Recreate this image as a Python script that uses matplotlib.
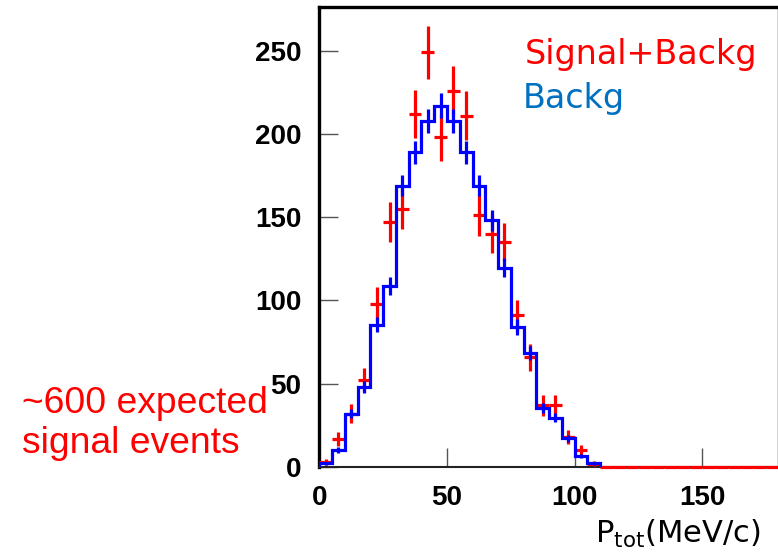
import numpy as np
import matplotlib
matplotlib.use("Agg")
import matplotlib.pyplot as plt

# ---- data ----
bin_width = 5.0
# Signal+Background (red points), bins of 5 MeV/c starting at 0, up to 180
sig_bkg = [3, 17, 32, 52, 98, 147, 155, 212, 249, 198, 226, 211, 151, 140, 135,
           91, 66, 37, 37, 18, 10, 2,
           0, 0, 0, 0, 0, 0, 0, 0, 0, 0, 0, 0, 0, 0]
sig_bkg_err = [1.7, 4.1, 5.7, 7.2, 9.9, 12.1, 12.4, 14.6, 15.8, 14.1, 15.0, 14.5, 12.3, 11.8, 11.6,
               9.5, 8.1, 6.1, 6.1, 4.2, 3.2, 1.4,
               0, 0, 0, 0, 0, 0, 0, 0, 0, 0, 0, 0, 0, 0]
# Background only (blue histogram), bins of 5 MeV/c starting at 0, up to 110
bkg = [2.2, 10.2, 32, 48, 85.5, 108.6, 169, 189, 207.5, 217, 207.5, 189, 169, 148,
       119.7, 84, 68.3, 35.7, 29.7, 17.3, 6.6, 2.2]
bkg_err = [0.7, 1.6, 2.8, 3.5, 4.6, 5.2, 6.5, 6.9, 7.2, 7.4, 7.2, 6.9, 6.5, 6.1,
           5.5, 4.6, 4.1, 3.0, 2.7, 2.1, 1.3, 0.7]

x_ticks = [0, 50, 100, 150]
y_ticks = [0, 50, 100, 150, 200, 250]

# ---- figure ----
W, H = 778, 558
fig = plt.figure(figsize=(W / 100, H / 100), dpi=100)
x0_px, x180_px = 319.3, 778.9
y0_px, ytop_px = 467.0, 7.3
ax = fig.add_axes([x0_px / W, (H - y0_px) / H,
                   (x180_px - x0_px) / W, (y0_px - ytop_px) / H])
ax.set_xlim(0, 180)
ax.set_ylim(0, 276)

# red points
n_sb = len(sig_bkg)
centers_sb = np.arange(n_sb) * bin_width + bin_width / 2
ax.errorbar(centers_sb, sig_bkg, yerr=sig_bkg_err, xerr=bin_width / 2,
            fmt='none', ecolor='#ff0000', elinewidth=2.3, capsize=0, zorder=3,
            clip_on=False)

# blue histogram
n_b = len(bkg)
edges_b = np.arange(n_b + 1) * bin_width
centers_b = edges_b[:-1] + bin_width / 2
ax.stairs(bkg, edges_b, color='#0000ff', linewidth=2.3, baseline=0, zorder=4)
ax.errorbar(centers_b, bkg, yerr=bkg_err, fmt='none', ecolor='#0000ff',
            elinewidth=2.3, capsize=0, zorder=4)

# spines and ticks
for s in ['left', 'top']:
    ax.spines[s].set_linewidth(2.4)
    ax.spines[s].set_color('black')
ax.spines['bottom'].set_linewidth(1.5)
ax.spines['bottom'].set_color('#222222')
ax.spines['right'].set_linewidth(2.4)

ax.set_xticks(x_ticks)
ax.set_yticks(y_ticks)
ax.tick_params(axis='both', direction='in', length=14, width=1.0, color='#555555',
               labelsize=20, pad=13)
ax.tick_params(axis='y', pad=13)
for lab in ax.get_xticklabels() + ax.get_yticklabels():
    lab.set_fontfamily('Liberation Sans')
    lab.set_fontweight('bold')

# texts
fig.text(525 / W, 1 - 64 / H, 'Signal+Backg', color='#ff0000', fontsize=24,
         family='DejaVu Sans', ha='left', va='baseline')
fig.text(523 / W, 1 - 108 / H, 'Backg', color='#0070c0', fontsize=24,
         family='DejaVu Sans', ha='left', va='baseline')
fig.text(760 / W, 1 - 543 / H, r'P$_{\mathrm{tot}}$(MeV/c)', color='black', fontsize=22,
         family='DejaVu Sans', ha='right', va='baseline')
fig.text(22 / W, 1 - 413 / H, '~600 expected', color='#ff0000',
         fontsize=26.8, family='Liberation Sans', ha='left', va='baseline')
fig.text(22 / W, 1 - 453 / H, 'signal events', color='#ff0000',
         fontsize=26.8, family='Liberation Sans', ha='left', va='baseline')

fig.savefig('out.png', dpi=100)
